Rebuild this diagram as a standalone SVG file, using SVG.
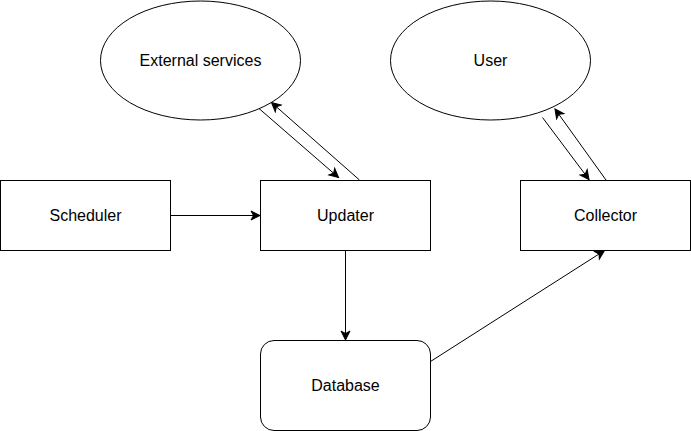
<svg xmlns="http://www.w3.org/2000/svg" width="691" height="431" viewBox="0 0 691 431">
<style>
.shape{fill:#fff;stroke:#000;stroke-width:1}
.lbl{font-family:"Liberation Sans",Arial,Helvetica,sans-serif;font-size:16px;fill:#000;text-anchor:middle;dominant-baseline:central}
.edge{fill:none;stroke:#000;stroke-width:1;marker-end:url(#arrow)}
</style>
<defs>
<marker id="arrow" markerUnits="userSpaceOnUse" markerWidth="12" markerHeight="12" viewBox="-10 -6 12 12" refX="0" refY="0" orient="auto">
<path d="M0,0 L-9,-4.5 L-6.5,0 L-9,4.5 Z" fill="#000" stroke="#000" stroke-width="1" stroke-linejoin="miter"/>
</marker>
</defs>
<rect width="691" height="431" fill="#fff"/>
<g id="external-services">
<ellipse class="shape" cx="200.5" cy="60.5" rx="100" ry="59.5"/>
<text class="lbl" x="200.5" y="60">External services</text>
</g>
<g id="user">
<ellipse class="shape" cx="490.5" cy="60.5" rx="100" ry="59.5"/>
<text class="lbl" x="490.5" y="60">User</text>
</g>
<g id="scheduler">
<rect class="shape" x="0.5" y="180.5" width="170" height="70"/>
<text class="lbl" x="85.5" y="215">Scheduler</text>
</g>
<g id="updater">
<rect class="shape" x="260.5" y="180.5" width="170" height="70"/>
<text class="lbl" x="345.5" y="215">Updater</text>
</g>
<g id="collector">
<rect class="shape" x="520.5" y="180.5" width="170" height="70"/>
<text class="lbl" x="605.5" y="215">Collector</text>
</g>
<g id="database">
<rect class="shape" x="260.5" y="340.5" width="170" height="90" rx="13.5" ry="13.5"/>
<text class="lbl" x="345.5" y="385">Database</text>
</g>
<g id="connectors">
<line class="edge" x1="170.5" y1="215.5" x2="260" y2="215.5"/>
<line class="edge" x1="345.5" y1="250.5" x2="345.5" y2="340"/>
<line class="edge" x1="430.5" y1="361.5" x2="604.5" y2="250.5"/>
<line class="edge" x1="259" y1="108.5" x2="338.5" y2="177.5"/>
<line class="edge" x1="359.5" y1="180" x2="271.5" y2="102.5"/>
<line class="edge" x1="542.5" y1="117.5" x2="589" y2="179.5"/>
<line class="edge" x1="606" y1="180" x2="555" y2="109"/>
</g>
</svg>
